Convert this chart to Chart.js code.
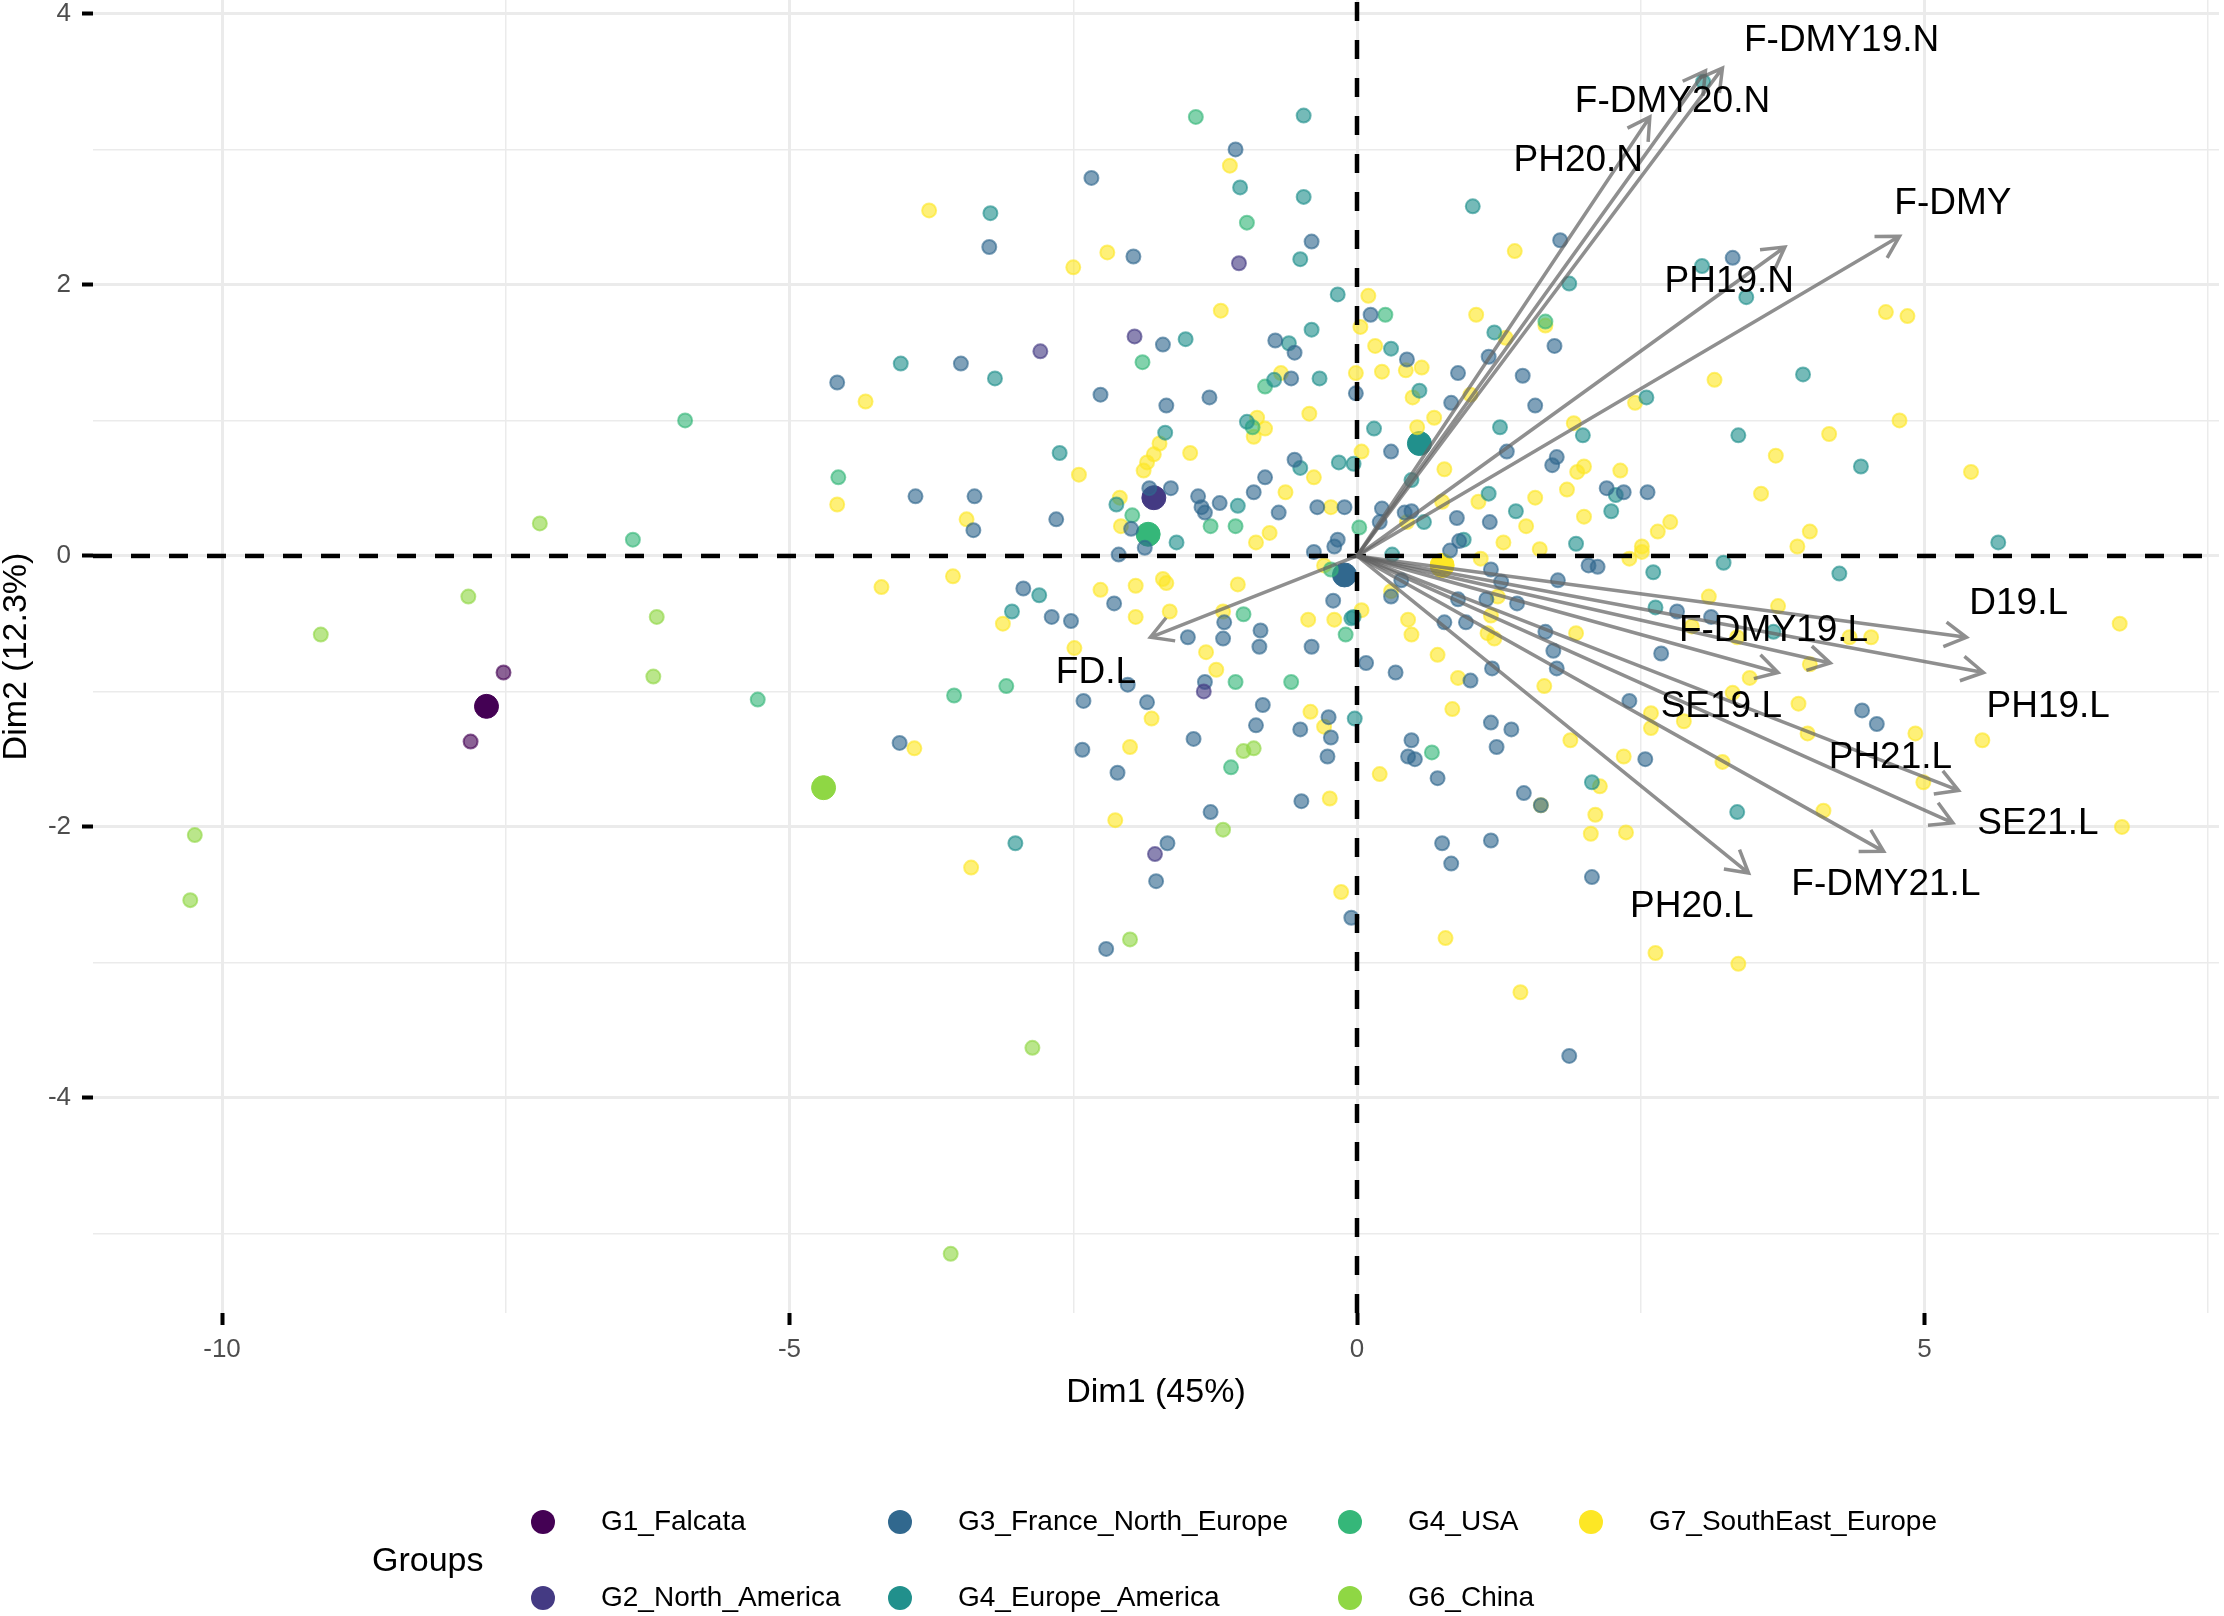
<!DOCTYPE html>
<html>
<head>
<meta charset="utf-8">
<title>PCA biplot</title>
<script src="https://cdn.jsdelivr.net/npm/chart.js@4.4.1/dist/chart.umd.min.js"></script>
<style>
  html, body { margin: 0; padding: 0; background: #ffffff; }
  #wrap { width: 2224px; height: 1616px; }
</style>
</head>
<body>
<div id="wrap"><canvas id="chart" width="2224" height="1616"></canvas></div>
<script>
// groups
var groupNames = ['G1_Falcata', 'G2_North_America', 'G3_France_North_Europe', 'G4_Europe_America', 'G4_USA', 'G6_China', 'G7_SouthEast_Europe'];
var groupColors = ['#440154', '#443A83', '#31688E', '#21908C', '#35B779', '#8FD744', '#FDE725'];

// individuals (Dim1, Dim2)
var g1Falcata = [[-7.52, -0.86], [-7.81, -1.37]];
var g2NorthAmerica = [[-1.04, 2.16], [-1.96, 1.62], [-2.79, 1.51], [-1.35, -1.0], [-1.78, -2.20]];
var g3France = [
  [-1.07, 3.0], [-2.34, 2.79], [-0.40, 2.32], [-3.24, 2.28], [-1.97, 2.21], [-1.71, 1.56], [-0.72, 1.59], [-0.55, 1.50],
  [-3.49, 1.42], [-4.58, 1.28], [-2.26, 1.19], [-1.68, 1.11], [-1.30, 1.17], [-0.58, 1.31], [-3.89, 0.44], [-3.37, 0.44],
  [-3.38, 0.19], [-2.65, 0.27], [-0.55, 0.71], [-0.81, 0.58], [-0.91, 0.47], [-1.64, 0.50], [-1.83, 0.50], [-1.40, 0.44],
  [-1.37, 0.36], [-1.34, 0.32], [-1.21, 0.39], [-0.69, 0.32], [-0.35, 0.36], [-0.11, 0.36], [-1.99, 0.20], [-1.87, 0.06],
  [-0.17, 0.12], [-0.20, 0.07], [-0.38, 0.03], [-2.10, 0.01],
  [1.79, 2.33], [3.31, 2.20], [0.12, 1.78], [1.74, 1.55], [0.44, 1.45], [1.16, 1.47], [0.89, 1.35], [1.46, 1.33],
  [-0.01, 1.20], [0.83, 1.13], [1.57, 1.11], [0.30, 0.77], [1.32, 0.77], [1.76, 0.73], [1.72, 0.67], [2.20, 0.50],
  [2.35, 0.47], [2.56, 0.47], [0.22, 0.35], [0.42, 0.32], [0.48, 0.33], [0.88, 0.28], [1.17, 0.25], [0.20, 0.25],
  [0.90, 0.11], [0.82, 0.04],
  [2.82, -0.41], [3.12, -0.45], [2.68, -0.72], [4.45, -1.14], [4.58, -1.24], [2.54, -1.50],
  [-2.94, -0.24], [-2.69, -0.45], [-2.52, -0.48], [-2.14, -0.35], [-1.17, -0.49], [-0.85, -0.55], [-1.49, -0.60], [-1.18, -0.61],
  [-0.86, -0.67], [-0.40, -0.67], [-0.21, -0.33], [-2.02, -0.95], [-2.41, -1.07], [-1.85, -1.08], [-1.34, -0.93], [-0.83, -1.10],
  [-0.89, -1.25], [-0.25, -1.19], [-0.50, -1.28], [-0.23, -1.34], [-0.26, -1.48], [-4.03, -1.38], [-2.42, -1.43], [-1.44, -1.35],
  [-2.11, -1.60], [-0.49, -1.81], [-1.29, -1.89], [-1.67, -2.12], [-1.77, -2.40], [-0.05, -2.67], [-2.21, -2.90],
  [1.18, -0.10], [1.27, -0.19], [1.77, -0.18], [2.04, -0.07], [2.12, -0.08], [0.39, -0.18], [0.30, -0.30], [0.89, -0.32],
  [1.14, -0.32], [1.41, -0.35], [0.77, -0.49], [0.96, -0.49], [1.66, -0.56], [0.08, -0.79], [0.34, -0.86], [1.73, -0.70],
  [1.76, -0.83], [1.19, -0.83], [1.0, -0.92], [2.40, -1.07], [1.18, -1.23], [1.36, -1.28], [1.23, -1.41], [0.48, -1.36],
  [0.45, -1.48], [0.51, -1.50], [0.71, -1.64], [1.47, -1.75], [1.62, -1.84], [0.75, -2.12], [1.18, -2.10], [0.83, -2.27],
  [2.07, -2.37], [1.87, -3.69]
];
var g4Europe = [
  [-0.47, 3.25], [-1.03, 2.72], [-0.47, 2.65], [-3.23, 2.53], [-0.50, 2.19], [-0.17, 1.93], [-0.40, 1.67], [-1.51, 1.60],
  [-0.60, 1.57], [-4.02, 1.42], [-3.19, 1.31], [-0.73, 1.30], [-0.33, 1.31], [-0.97, 0.99], [-1.69, 0.91], [-2.62, 0.76],
  [-0.50, 0.65], [-0.16, 0.69], [-1.05, 0.37], [-2.12, 0.38], [-1.59, 0.10],
  [1.02, 2.58], [1.87, 2.01], [3.04, 2.14], [3.43, 1.91], [1.21, 1.65], [0.30, 1.53], [3.93, 1.34], [0.55, 1.22],
  [2.55, 1.17], [0.15, 0.94], [1.26, 0.95], [1.99, 0.89], [3.36, 0.89], [4.44, 0.66], [-0.03, 0.68], [0.48, 0.56],
  [2.28, 0.45], [1.16, 0.46], [0.59, 0.25], [1.40, 0.33], [2.24, 0.33], [0.94, 0.12], [1.93, 0.09], [0.31, 0.01],
  [3.05, 3.50], [5.65, 0.10],
  [2.61, -0.12], [3.23, -0.05], [4.25, -0.13], [2.63, -0.38], [3.67, -0.56], [3.35, -1.89],
  [-2.80, -0.29], [-3.04, -0.41], [-0.05, -0.46], [-0.02, -1.20], [-3.01, -2.12], [-0.03, -0.45], [2.07, -1.67]
];
var g4Usa = [
  [-1.42, 3.24], [-0.97, 2.46], [-1.89, 1.43], [-0.81, 1.25], [-0.92, 0.95], [-4.57, 0.58], [-1.98, 0.30], [-1.29, 0.22],
  [-1.07, 0.22], [0.25, 1.78], [1.66, 1.73], [0.02, 0.21],
  [-1.0, -0.43], [-0.10, -0.58], [-0.23, -0.10], [-1.07, -0.93], [-0.58, -0.93], [-3.55, -1.03], [-3.09, -0.96], [-1.11, -1.56],
  [0.66, -1.45], [-5.92, 1.0], [-6.38, 0.12], [-5.28, -1.06]
];
var g6China = [
  [-7.20, 0.24], [-7.83, -0.30], [-9.13, -0.58], [-6.17, -0.45], [-6.20, -0.89], [-10.24, -2.06], [-10.28, -2.54],
  [-1.0, -1.44], [-0.91, -1.42], [-1.18, -2.02], [-2.0, -2.83], [-2.86, -3.63], [-3.58, -5.15]
];
var g7SouthEast = [
  [-1.12, 2.88], [-3.77, 2.55], [-2.2, 2.24], [-2.5, 2.13], [-1.20, 1.81], [-4.33, 1.14], [-0.67, 1.35], [-0.42, 1.05],
  [-0.88, 1.02], [-0.81, 0.94], [-0.91, 0.88], [-1.74, 0.83], [-1.79, 0.75], [-1.85, 0.69], [-1.88, 0.63], [-1.47, 0.76],
  [-2.45, 0.60], [-4.58, 0.38], [-3.44, 0.27], [-0.38, 0.58], [-0.63, 0.47], [-0.23, 0.36], [-2.09, 0.43], [-2.08, 0.22],
  [-0.89, 0.10], [-0.77, 0.17],
  [1.39, 2.25], [4.66, 1.80], [4.85, 1.77], [0.10, 1.92], [0.03, 1.69], [1.05, 1.78], [1.66, 1.70], [1.31, 1.61],
  [0.16, 1.55], [-0.01, 1.35], [0.22, 1.36], [0.43, 1.37], [0.57, 1.39], [3.15, 1.30], [0.49, 1.17], [1.0, 1.19],
  [2.45, 1.13], [0.68, 1.02], [0.53, 0.95], [1.91, 0.98], [4.78, 1.0], [4.16, 0.90], [3.69, 0.74], [0.04, 0.77],
  [2.0, 0.66], [1.94, 0.62], [2.32, 0.63], [0.77, 0.64], [1.85, 0.49], [1.07, 0.40], [1.57, 0.43], [3.56, 0.46],
  [0.75, 0.40], [0.44, 0.25], [2.0, 0.29], [1.49, 0.22], [2.76, 0.25], [2.65, 0.18], [3.99, 0.18], [1.29, 0.10],
  [1.61, 0.05], [2.51, 0.07], [3.88, 0.07], [5.41, 0.62],
  [3.10, -0.30], [3.71, -0.37], [2.95, -0.52], [3.35, -0.60], [4.34, -0.60], [4.53, -0.60], [6.72, -0.50], [3.99, -0.80],
  [3.46, -0.90], [3.31, -1.01], [3.89, -1.09], [2.59, -1.16], [2.88, -1.22], [2.59, -1.27], [3.97, -1.31], [4.92, -1.31],
  [5.51, -1.36], [3.22, -1.52], [4.99, -1.67], [4.11, -1.88], [6.74, -2.0], [2.63, -2.93], [3.36, -3.01],
  [-4.19, -0.23], [-3.56, -0.15], [-3.12, -0.50], [-2.49, -0.68], [-2.26, -0.25], [-1.95, -0.22], [-1.71, -0.17], [-1.68, -0.20],
  [-1.95, -0.45], [-1.65, -0.41], [-1.05, -0.21], [-1.18, -0.41], [-1.33, -0.71], [-1.24, -0.84], [-0.43, -0.47], [-0.20, -0.47],
  [-0.29, -0.07], [-1.81, -1.20], [-0.41, -1.15], [-0.29, -1.26], [-3.90, -1.42], [-2.0, -1.41], [-0.24, -1.79], [-2.13, -1.95],
  [-3.40, -2.30], [-0.14, -2.48],
  [1.09, -0.02], [2.40, -0.02], [2.51, 0.03], [0.30, -0.26], [0.04, -0.40], [1.24, -0.30], [1.18, -0.44], [0.45, -0.47],
  [0.48, -0.58], [1.15, -0.57], [1.21, -0.61], [1.93, -0.57], [0.71, -0.73], [0.89, -0.90], [1.65, -0.96], [0.84, -1.13],
  [0.20, -1.61], [1.88, -1.36], [2.35, -1.48], [1.62, -1.84], [2.14, -1.70], [2.10, -1.91], [2.06, -2.05], [2.37, -2.04],
  [0.78, -2.82], [1.44, -3.22]
];
var groupPoints = [g1Falcata, g2NorthAmerica, g3France, g4Europe, g4Usa, g6China, g7SouthEast];

// group means
var centroidX = [-7.67, -1.79, -0.11, 0.55, -1.84, -4.70, 0.75];
var centroidY = [-1.11, 0.43, -0.14, 0.83, 0.16, -1.71, -0.07];

// variables (arrow tips and label anchors)
var varNames = ['F-DMY19.N', 'F-DMY20.N', 'PH20.N', 'PH19.N', 'F-DMY', 'D19.L', 'PH19.L', 'F-DMY19.L', 'SE19.L', 'PH21.L', 'SE21.L', 'F-DMY21.L', 'PH20.L', 'FD.L'];
var varX = [3.22, 3.07, 2.58, 3.77, 4.78, 5.37, 5.52, 4.17, 3.71, 5.30, 5.25, 4.64, 3.45, -1.82];
var varY = [3.60, 3.58, 3.24, 2.28, 2.36, -0.60, -0.86, -0.79, -0.86, -1.73, -1.97, -2.18, -2.34, -0.60];
var labelX = [4.27, 2.78, 1.95, 3.28, 5.25, 5.83, 6.09, 3.67, 3.21, 4.70, 6.00, 4.66, 2.95, -2.30];
var labelY = [3.80, 3.35, 2.92, 2.02, 2.60, -0.35, -1.11, -0.55, -1.11, -1.49, -1.98, -2.43, -2.59, -0.86];

// axes
var xTicks = [-10, -7.5, -5, -2.5, 0, 2.5, 5, 7.5];
var yTicks = [-5, -4, -3, -2, -1, 0, 1, 2, 3, 4];

var FONT = '"Liberation Sans", Arial, Helvetica, sans-serif';

function rgba(hex, a) {
  var n = parseInt(hex.slice(1), 16);
  return 'rgba(' + (n >> 16) + ',' + ((n >> 8) & 255) + ',' + (n & 255) + ',' + a + ')';
}

var datasets = [];
groupPoints.forEach(function (pts, i) {
  datasets.push({
    label: groupNames[i],
    data: pts.map(function (p) { return { x: p[0], y: p[1] }; }),
    backgroundColor: rgba(groupColors[i], 0.62),
    borderColor: rgba(groupColors[i], 0.62),
    borderWidth: 2,
    pointRadius: 7
  });
});
groupNames.forEach(function (name, i) {
  datasets.push({
    label: name + ' mean',
    data: [{ x: centroidX[i], y: centroidY[i] }],
    backgroundColor: groupColors[i],
    borderColor: groupColors[i],
    borderWidth: 1,
    pointRadius: 12
  });
});

var axisLines = {
  id: 'axisLines',
  afterDatasetsDraw: function (chart) {
    var ctx = chart.ctx, a = chart.chartArea;
    var x0 = chart.scales.x.getPixelForValue(0);
    var y0 = chart.scales.y.getPixelForValue(0);
    ctx.save();
    ctx.strokeStyle = '#000000';
    ctx.lineWidth = 4.5;
    ctx.setLineDash([19, 19]);
    ctx.beginPath();
    ctx.moveTo(a.left, y0); ctx.lineTo(a.right, y0);
    ctx.stroke();
    ctx.beginPath();
    ctx.moveTo(x0, a.bottom); ctx.lineTo(x0, a.top);
    ctx.stroke();
    ctx.restore();
  }
};

var varArrows = {
  id: 'varArrows',
  afterDatasetsDraw: function (chart) {
    var ctx = chart.ctx, xs = chart.scales.x, ys = chart.scales.y;
    var x0 = xs.getPixelForValue(0), y0 = ys.getPixelForValue(0);
    var head = 25, spread = 0.52;
    ctx.save();
    ctx.strokeStyle = 'rgba(100,100,100,0.72)';
    ctx.lineWidth = 3.5;
    varNames.forEach(function (name, i) {
      var x1 = xs.getPixelForValue(varX[i]), y1 = ys.getPixelForValue(varY[i]);
      var ang = Math.atan2(y1 - y0, x1 - x0);
      ctx.beginPath();
      ctx.moveTo(x0, y0);
      ctx.lineTo(x1, y1);
      ctx.moveTo(x1 - head * Math.cos(ang - spread), y1 - head * Math.sin(ang - spread));
      ctx.lineTo(x1, y1);
      ctx.lineTo(x1 - head * Math.cos(ang + spread), y1 - head * Math.sin(ang + spread));
      ctx.stroke();
    });
    ctx.fillStyle = '#000000';
    ctx.font = '37px ' + FONT;
    ctx.textAlign = 'center';
    ctx.textBaseline = 'middle';
    varNames.forEach(function (name, i) {
      ctx.fillText(name, xs.getPixelForValue(labelX[i]), ys.getPixelForValue(labelY[i]));
    });
    ctx.restore();
  }
};

var groupLegend = {
  id: 'groupLegend',
  afterDraw: function (chart) {
    var ctx = chart.ctx;
    var colX = [543, 900, 1350, 1591];
    var rowY = [1522, 1598];
    ctx.save();
    ctx.fillStyle = '#000000';
    ctx.textBaseline = 'middle';
    ctx.textAlign = 'left';
    ctx.font = '34px ' + FONT;
    ctx.fillText('Groups', 372, 1562);
    ctx.font = '28px ' + FONT;
    groupNames.forEach(function (name, i) {
      var cx = colX[Math.floor(i / 2)], cy = rowY[i % 2];
      ctx.fillStyle = groupColors[i];
      ctx.beginPath();
      ctx.arc(cx, cy, 12, 0, Math.PI * 2);
      ctx.fill();
      ctx.fillStyle = '#000000';
      ctx.fillText(name, cx + 58, cy);
    });
    ctx.restore();
  }
};

var ctx = document.getElementById('chart').getContext('2d');
var chart = new Chart(ctx, {
  type: 'scatter',
  data: { datasets: datasets },
  plugins: [axisLines, varArrows, groupLegend],
  options: {
    responsive: false,
    animation: false,
    devicePixelRatio: 1,
    layout: { autoPadding: false, padding: { left: 0, right: 5, top: 0, bottom: 193 } },
    plugins: {
      legend: { display: false },
      tooltip: { enabled: false }
    },
    scales: {
      x: {
        type: 'linear',
        min: -11.137,
        max: 7.595,
        afterBuildTicks: function (s) { s.ticks = xTicks.map(function (v) { return { value: v }; }); },
        afterFit: function (s) { s.height = 110; s.paddingLeft = 0; s.paddingRight = 0; },
        border: { display: false },
        grid: {
          color: '#EBEBEB',
          lineWidth: function (c) { return c.tick && c.tick.value % 5 === 0 ? 3 : 1.5; },
          tickColor: function (c) { return c.tick && c.tick.value % 5 === 0 ? '#000000' : 'rgba(0,0,0,0)'; },
          tickWidth: 4,
          tickLength: 12
        },
        ticks: {
          autoSkip: false,
          maxRotation: 0,
          padding: 9,
          color: '#4D4D4D',
          font: { family: FONT, size: 26 },
          callback: function (v) { return v % 5 === 0 ? String(v) : ''; }
        },
        title: {
          display: true,
          text: 'Dim1 (45%)',
          color: '#000000',
          font: { family: FONT, size: 34 },
          padding: { top: 0, bottom: 10 }
        }
      },
      y: {
        type: 'linear',
        min: -5.587,
        max: 4.103,
        afterBuildTicks: function (s) { s.ticks = yTicks.map(function (v) { return { value: v }; }); },
        afterFit: function (s) { s.width = 93; s.paddingTop = 0; s.paddingBottom = 0; },
        border: { display: false },
        grid: {
          color: '#EBEBEB',
          lineWidth: function (c) { return c.tick && c.tick.value % 2 === 0 ? 3 : 1.5; },
          tickColor: function (c) { return c.tick && c.tick.value % 2 === 0 ? '#000000' : 'rgba(0,0,0,0)'; },
          tickWidth: 4,
          tickLength: 11
        },
        ticks: {
          autoSkip: false,
          padding: 11,
          color: '#4D4D4D',
          font: { family: FONT, size: 26 },
          callback: function (v) { return v % 2 === 0 ? String(v) : ''; }
        },
        title: {
          display: true,
          text: 'Dim2 (12.3%)',
          color: '#000000',
          font: { family: FONT, size: 34, lineHeight: 1 },
          padding: 0
        }
      }
    }
  }
});
</script>
</body>
</html>
